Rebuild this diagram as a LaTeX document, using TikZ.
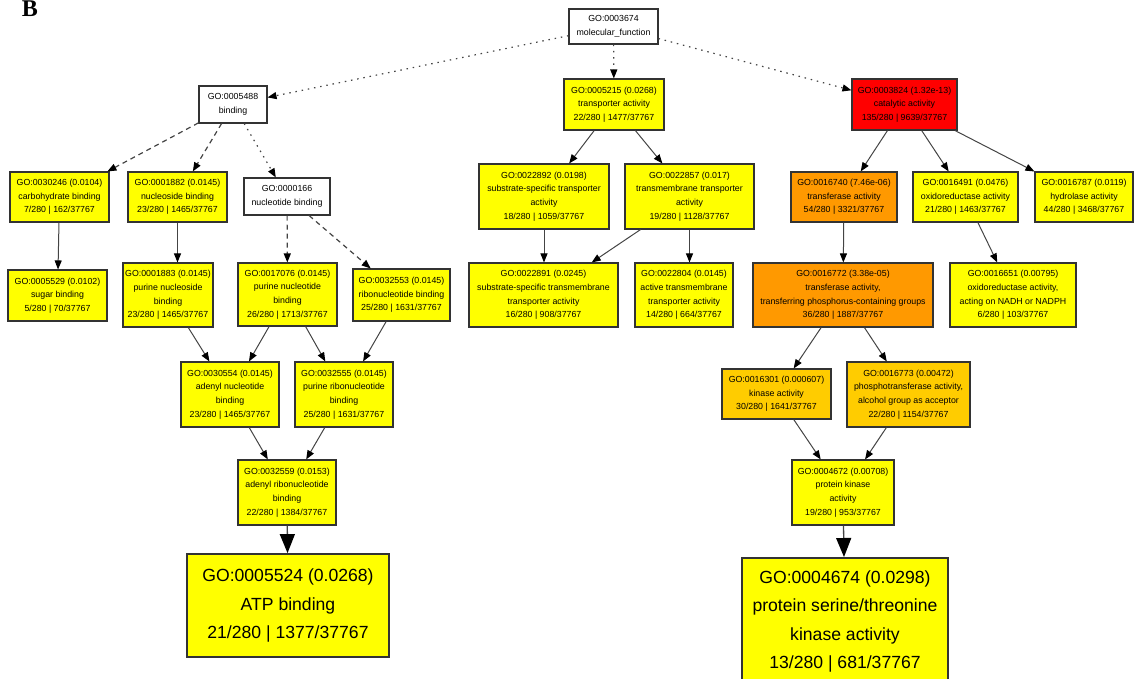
\documentclass[tikz,border=0pt]{standalone}
\usepackage{fontspec}
\setmainfont{Liberation Sans}
\newfontfamily\serifB{Liberation Serif}
\usetikzlibrary{arrows.meta}
\definecolor{goY}{HTML}{FFFF00}
\definecolor{goO}{HTML}{FF9900}
\definecolor{goR}{HTML}{FF0000}
\definecolor{goG}{HTML}{FFCC00}
\definecolor{edgec}{HTML}{444444}
\definecolor{boxc}{HTML}{333333}
\tikzset{
  sz/.style 2 args={minimum width=#1pt, minimum height=#2pt},
  gobox/.style={draw=boxc, line width=1.1pt, align=center, inner sep=0pt,
    font=\fontsize{8.8}{13.6}\selectfont},
  ybox/.style={gobox, fill=goY},
  obox/.style={gobox, fill=goO},
  rbox/.style={gobox, fill=goR},
  gbox/.style={gobox, fill=goG},
  wbox/.style={gobox, fill=white},
  bigbox/.style={draw=boxc, line width=1.8pt, align=center, inner sep=0pt, fill=goY,
    font=\fontsize{17.6}{28.5}\selectfont},
  edge/.style={draw=edgec, line width=1pt, -{Triangle[length=9pt,width=7pt,color=black]}},
  dotline/.style={line width=1.2pt, dash pattern=on 1.5pt off 4.8pt},
  dashline/.style={line width=1.2pt, dash pattern=on 5pt off 4pt},
  bigedge/.style={draw=edgec, line width=1.3pt, -{Triangle[length=19pt,width=15pt,color=black]}}
}
\begin{document}
\begin{tikzpicture}[x=1pt,y=-1pt]
\useasboundingbox (0,0) rectangle (1141,679);
\clip (0,0) rectangle (1141,679);

\node[anchor=base, inner sep=0pt] (lblB) at (30,17) {\serifB\bfseries\fontsize{24}{24}\selectfont B};

% row 0/1
\node[wbox, sz={89}{35}] (mf) at (613.5,26.5) {GO:0003674\\molecular\_function};
\node[wbox, sz={68}{37}] (bind) at (233,104.5) {GO:0005488\\binding};
\node[ybox, sz={100}{51}] (trans) at (614,104.5) {GO:0005215 (0.0268)\\transporter activity\\22/280 | 1477/37767};
\node[rbox, sz={105}{51}] (cat) at (904.5,104.5) {GO:0003824 (1.32e-13)\\catalytic activity\\135/280 | 9639/37767};

% row 2
\node[ybox, sz={99}{50}] (carb) at (59.5,197) {GO:0030246 (0.0104)\\carbohydrate binding\\7/280 | 162/37767};
\node[ybox, sz={99}{50}] (nucs) at (177.5,197) {GO:0001882 (0.0145)\\nucleoside binding\\23/280 | 1465/37767};
\node[wbox, sz={86}{37}] (nuct) at (287,196.5) {GO:0000166\\nucleotide binding};
\node[ybox, sz={130}{65}] (sst) at (544,196.5) {GO:0022892 (0.0198)\\substrate-specific transporter\\activity\\18/280 | 1059/37767};
\node[ybox, sz={129}{65}] (tmt) at (689.5,196.5) {GO:0022857 (0.017)\\transmembrane transporter\\activity\\19/280 | 1128/37767};
\node[obox, sz={106}{50}] (tfa) at (844,197) {GO:0016740 (7.46e-06)\\transferase activity\\54/280 | 3321/37767};
\node[ybox, sz={105}{50}] (oxr) at (965.5,197) {GO:0016491 (0.0476)\\oxidoreductase activity\\21/280 | 1463/37767};
\node[ybox, sz={98}{50}] (hyd) at (1084,197) {GO:0016787 (0.0119)\\hydrolase activity\\44/280 | 3468/37767};

% row 3
\node[ybox, sz={99}{51}] (sug) at (57.5,295.5) {GO:0005529 (0.0102)\\sugar binding\\5/280 | 70/37767};
\node[ybox, sz={90}{64}] (pns) at (168,295) {GO:0001883 (0.0145)\\purine nucleoside\\binding\\23/280 | 1465/37767};
\node[ybox, sz={99}{63}] (pnt) at (287.5,294.5) {GO:0017076 (0.0145)\\purine nucleotide\\binding\\26/280 | 1713/37767};
\node[ybox, sz={97}{52}] (rib) at (401.5,295) {GO:0032553 (0.0145)\\ribonucleotide binding\\25/280 | 1631/37767};
\node[ybox, sz={149}{64}] (sstm) at (543.5,295) {GO:0022891 (0.0245)\\substrate-specific transmembrane\\transporter activity\\16/280 | 908/37767};
\node[ybox, sz={98}{64}] (atm) at (684,295) {GO:0022804 (0.0145)\\active transmembrane\\transporter activity\\14/280 | 664/37767};
\node[obox, sz={180}{64}] (tfp) at (843,295) {GO:0016772 (3.38e-05)\\transferase activity,\\transferring phosphorus-containing groups\\36/280 | 1887/37767};
\node[ybox, sz={126}{64}] (nadh) at (1013,295) {GO:0016651 (0.00795)\\oxidoreductase activity,\\acting on NADH or NADPH\\6/280 | 103/37767};

% row 4
\node[ybox, sz={98}{65}] (adn) at (230,394.5) {GO:0030554 (0.0145)\\adenyl nucleotide\\binding\\23/280 | 1465/37767};
\node[ybox, sz={98}{65}] (prb) at (344,394.5) {GO:0032555 (0.0145)\\purine ribonucleotide\\binding\\25/280 | 1631/37767};
\node[gbox, sz={109}{50}] (kin) at (776.5,394) {GO:0016301 (0.000607)\\kinase activity\\30/280 | 1641/37767};
\node[gbox, sz={123}{65}] (pht) at (908.5,394.5) {GO:0016773 (0.00472)\\phosphotransferase activity,\\alcohol group as acceptor\\22/280 | 1154/37767};

% row 5
\node[ybox, sz={98}{65}] (arb) at (287,492.5) {GO:0032559 (0.0153)\\adenyl ribonucleotide\\binding\\22/280 | 1384/37767};
\node[ybox, sz={102}{65}] (pka) at (843,492.5) {GO:0004672 (0.00708)\\protein kinase\\activity\\19/280 | 953/37767};

% row 6
\node[bigbox, sz={202}{103}] (atp) at (288,605.5) {GO:0005524 (0.0268)\\ATP binding\\21/280 | 1377/37767};
\node[bigbox, sz={206}{127}, anchor=north] (stk) at (845,557) {GO:0004674 (0.0298)\\protein serine/threonine\\kinase activity\\13/280 | 681/37767};

% edges
\draw[edge, dotline] (mf) -- (bind);
\draw[edge, dotline] (mf) -- (trans);
\draw[edge, dotline] (mf) -- (cat);
\draw[edge, dashline] (bind) -- (carb);
\draw[edge, dashline] (bind) -- (nucs);
\draw[edge, dotline] (bind) -- (nuct);
\draw[edge, dashline] (nuct) -- (pnt);
\draw[edge, dashline] (nuct) -- (rib);
\draw[edge] (carb) -- (sug);
\draw[edge] (nucs) -- (nucs |- pns.north);
\draw[edge] (pns) -- (adn);
\draw[edge] (pnt) -- (adn);
\draw[edge] (pnt) -- (prb);
\draw[edge] (rib) -- (prb);
\draw[edge] (adn) -- (arb);
\draw[edge] (prb) -- (arb);
\draw[bigedge] (arb) -- (atp);

\draw[edge] (trans) -- (sst);
\draw[edge] (trans) -- (tmt);
\draw[edge] (sst) -- (sst |- sstm.north);
\draw[edge] (tmt) -- (sstm);
\draw[edge] (tmt) -- (tmt |- atm.north);

\draw[edge] (cat) -- (tfa);
\draw[edge] (cat) -- (oxr);
\draw[edge] (cat) -- (hyd);
\draw[edge] (tfa) -- (tfp);
\draw[edge] (oxr) -- (nadh);
\draw[edge] (tfp) -- (kin);
\draw[edge] (tfp) -- (pht);
\draw[edge] (kin) -- (pka);
\draw[edge] (pht) -- (pka);
\draw[bigedge] (pka) -- (stk);
\end{tikzpicture}
\end{document}
